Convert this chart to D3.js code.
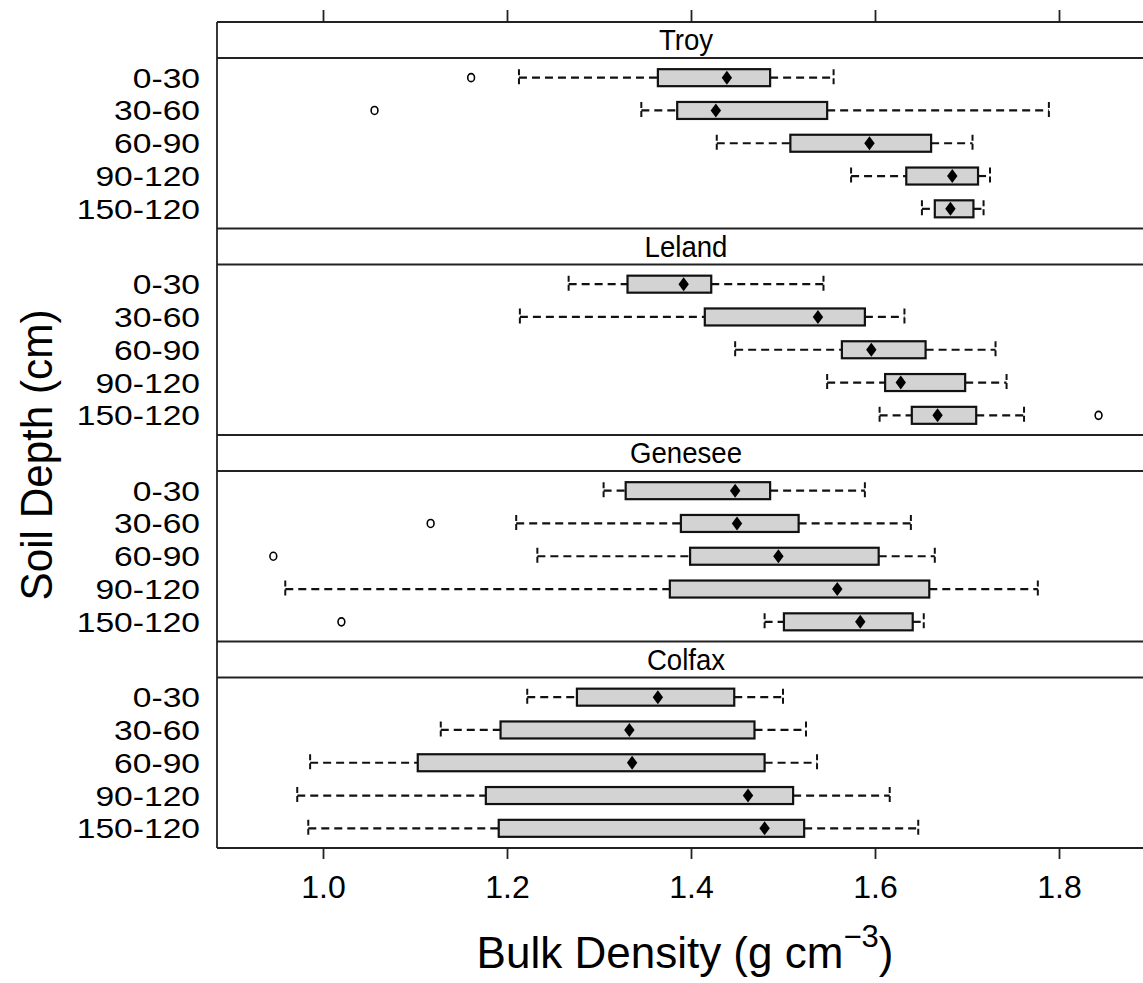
<!DOCTYPE html>
<html>
<head>
<meta charset="utf-8">
<script src="https://cdn.jsdelivr.net/npm/d3@7"></script>
<style>
  html, body { margin: 0; padding: 0; background: #fff; }
  svg { display: block; font-family: "Liberation Sans", Arial, sans-serif; }
</style>
</head>
<body>
<svg id="chart" width="1143" height="983"></svg>
<script>
// ---- data ----
const soils = ["Troy", "Leland", "Genesee", "Colfax"];
const depths = ["0-30", "30-60", "60-90", "90-120", "150-120"];
const xTicks = [1.0, 1.2, 1.4, 1.6, 1.8];

// each row: [lower whisker, Q1, median, Q3, upper whisker]
const troyStats = [
  [1.213, 1.364, 1.439, 1.486, 1.555],
  [1.346, 1.385, 1.427, 1.548, 1.789],
  [1.428, 1.508, 1.594, 1.661, 1.706],
  [1.574, 1.634, 1.684, 1.712, 1.725],
  [1.651, 1.665, 1.682, 1.707, 1.718]
];
const lelandStats = [
  [1.267, 1.331, 1.392, 1.422, 1.544],
  [1.214, 1.415, 1.538, 1.589, 1.632],
  [1.448, 1.564, 1.596, 1.655, 1.731],
  [1.548, 1.611, 1.628, 1.698, 1.743],
  [1.605, 1.640, 1.668, 1.710, 1.762]
];
const geneseeStats = [
  [1.305, 1.329, 1.448, 1.486, 1.589],
  [1.210, 1.389, 1.450, 1.517, 1.639],
  [1.233, 1.399, 1.495, 1.604, 1.665],
  [0.959, 1.377, 1.559, 1.659, 1.777],
  [1.480, 1.501, 1.584, 1.641, 1.653]
];
const colfaxStats = [
  [1.222, 1.276, 1.364, 1.447, 1.500],
  [1.128, 1.193, 1.333, 1.469, 1.525],
  [0.986, 1.103, 1.336, 1.480, 1.537],
  [0.972, 1.177, 1.462, 1.511, 1.616],
  [0.984, 1.191, 1.480, 1.523, 1.647]
];
const outlierSoil  = ["Troy", "Troy", "Leland", "Genesee", "Genesee", "Genesee"];
const outlierDepth = ["0-30", "30-60", "150-120", "30-60", "60-90", "150-120"];
const outlierValue = [1.161, 1.056, 1.843, 1.117, 0.946, 1.020];

const statsBySoil = [troyStats, lelandStats, geneseeStats, colfaxStats];

// ---- layout ----
const svg = d3.select("#chart");
const plotLeft = 217;
const plotTop = 22;
const stripH = 36;
const panelH = 170.5;
const blockH = stripH + panelH;
const plotBottom = plotTop + soils.length * blockH;
const frameColor = "#222";
const markColor = "#111";
const font = '"Liberation Sans", Arial, sans-serif';

const x = d3.scaleLinear().domain([0.885, 1.90]).range([323 - 0.115 * 920, 323 + 0.90 * 920]);
const plotRight = x.range()[1];

const g = svg.append("g");

soils.forEach((soil, si) => {
  const sTop = plotTop + si * blockH;
  const pTop = sTop + stripH;
  const pBot = pTop + panelH;
  const y = d3.scalePoint().domain(depths).range([pTop, pBot]).padding(0.6);
  const boxH = 17;
  const pg = g.append("g").attr("class", "panel");

  // strip
  pg.append("rect").attr("x", plotLeft).attr("y", sTop).attr("width", plotRight - plotLeft).attr("height", stripH)
    .attr("fill", "#fff").attr("stroke", "none");
  pg.append("text")
    .attr("transform", `translate(${(plotLeft + plotRight) / 2 + 2},${sTop + stripH / 2 + 10}) scale(0.92,1)`)
    .attr("text-anchor", "middle").attr("font-size", 30).attr("fill", "#000").text(soil);

  // separator lines
  pg.append("line").attr("x1", plotLeft).attr("x2", plotRight).attr("y1", sTop).attr("y2", sTop)
    .attr("stroke", frameColor).attr("stroke-width", 1.8);
  pg.append("line").attr("x1", plotLeft).attr("x2", plotRight).attr("y1", pTop).attr("y2", pTop)
    .attr("stroke", frameColor).attr("stroke-width", 1.8);

  const stats = statsBySoil[si];
  depths.forEach((dep, di) => {
    const [lo, q1, med, q3, hi] = stats[di];
    const cy = y(dep);
    const dash = "8,5";
    // whiskers
    pg.append("line").attr("x1", x(lo)).attr("x2", x(q1)).attr("y1", cy).attr("y2", cy)
      .attr("stroke", markColor).attr("stroke-width", 2.2).attr("stroke-dasharray", dash);
    pg.append("line").attr("x1", x(q3)).attr("x2", x(hi)).attr("y1", cy).attr("y2", cy)
      .attr("stroke", markColor).attr("stroke-width", 2.2).attr("stroke-dasharray", dash);
    // caps
    [lo, hi].forEach(v => {
      pg.append("line").attr("x1", x(v)).attr("x2", x(v)).attr("y1", cy - boxH / 2).attr("y2", cy + boxH / 2)
        .attr("stroke", markColor).attr("stroke-width", 2).attr("stroke-dasharray", "6,3");
    });
    // box
    pg.append("rect").attr("x", x(q1)).attr("y", cy - boxH / 2).attr("width", x(q3) - x(q1)).attr("height", boxH)
      .attr("fill", "#d3d3d3").attr("stroke", markColor).attr("stroke-width", 2.2);
    // median diamond
    pg.append("path").attr("d", "M0,-7L5.2,0L0,7L-5.2,0Z")
      .attr("transform", `translate(${x(med)},${cy})`).attr("fill", "#000");
    // y label
    pg.append("text").attr("transform", `translate(200,${cy + 10}) scale(1.2,1)`).attr("text-anchor", "end")
      .attr("font-size", 28).attr("fill", "#000").text(dep);
  });

  // outliers
  outlierValue.forEach((v, oi) => {
    if (outlierSoil[oi] !== soil) return;
    pg.append("ellipse").attr("cx", x(v)).attr("cy", y(outlierDepth[oi])).attr("rx", 3.4).attr("ry", 4)
      .attr("fill", "none").attr("stroke", "#000").attr("stroke-width", 1.6);
  });
});

// outer frame lines
g.append("line").attr("x1", plotLeft).attr("x2", plotRight).attr("y1", plotBottom).attr("y2", plotBottom)
  .attr("stroke", frameColor).attr("stroke-width", 1.8);
g.append("line").attr("x1", plotLeft).attr("x2", plotLeft).attr("y1", plotTop).attr("y2", plotBottom)
  .attr("stroke", frameColor).attr("stroke-width", 1.8);
g.append("line").attr("x1", plotRight).attr("x2", plotRight).attr("y1", plotTop).attr("y2", plotBottom)
  .attr("stroke", frameColor).attr("stroke-width", 1.8);

// axes
const axTop = d3.axisTop(x).tickValues(xTicks).tickSize(12).tickFormat("");
const axBot = d3.axisBottom(x).tickValues(xTicks).tickSize(11).tickPadding(8).tickFormat(d3.format(".1f"));
const gTop = svg.append("g").attr("transform", `translate(0,${plotTop})`).call(axTop);
const gBot = svg.append("g").attr("transform", `translate(0,${plotBottom})`).call(axBot);
[gTop, gBot].forEach(a => {
  a.select(".domain").remove();
  a.selectAll(".tick line").attr("stroke", "#222").attr("stroke-width", 1.8);
  a.selectAll(".tick text").attr("font-size", 32).attr("font-family", font).attr("fill", "#000");
});
gBot.selectAll(".tick text").attr("dy", null).attr("y", 50);

// axis titles
const xt = svg.append("text").attr("x", 685).attr("y", 968).attr("text-anchor", "middle")
  .attr("font-size", 44).attr("fill", "#000");
xt.append("tspan").text("Bulk Density (g cm");
xt.append("tspan").attr("font-size", 31).attr("dy", -21).text("\u22123");
xt.append("tspan").attr("dy", 21).text(")");

svg.append("text").attr("transform", "translate(52,455) rotate(-90) scale(0.96,1)").attr("text-anchor", "middle")
  .attr("font-size", 44).attr("fill", "#000").text("Soil Depth (cm)");
</script>
</body>
</html>
